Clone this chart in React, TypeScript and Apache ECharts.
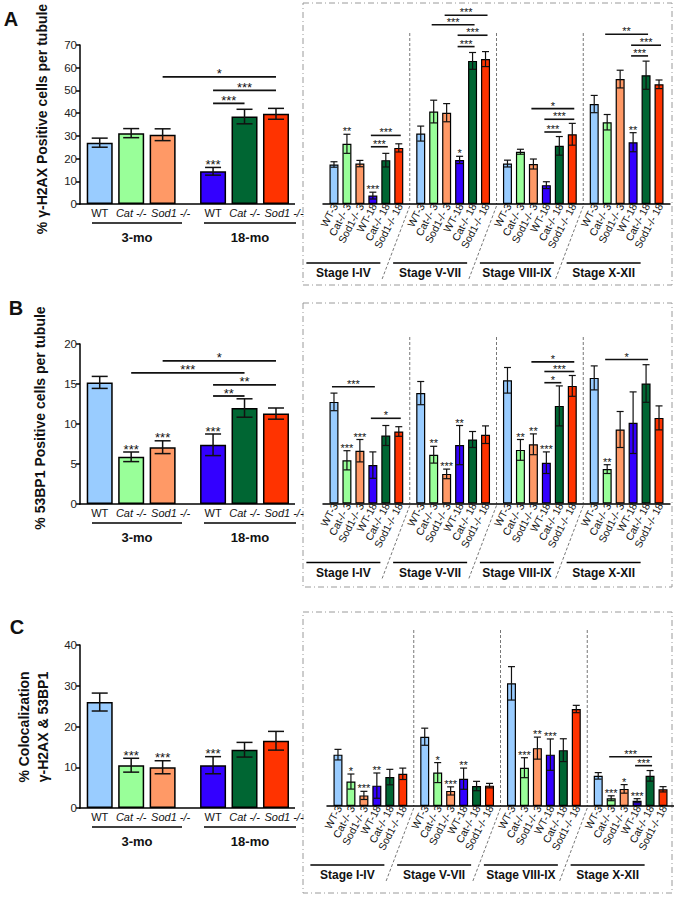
import React, { useEffect, useRef } from 'react';
import * as echarts from 'echarts';

const FONT = '"Liberation Sans", Arial, Helvetica, sans-serif';

// ---------- categories ----------
const ageGroups = ['3-mo', '18-mo'];
const genotypes = ['WT', 'Cat -/-', 'Sod1 -/-'];
const stages = ['Stage I-IV', 'Stage V-VII', 'Stage VIII-IX', 'Stage X-XII'];
const stageBars = ['WT-3', 'Cat-/- 3', 'Sod1-/- 3', 'WT-18', 'Cat-/- 18', 'Sod1-/- 18'];
const colors3mo = ['#99ccff', '#99ff99', '#ff9966'];
const colors18mo = ['#3300ff', '#006633', '#ff3300'];
const stageColors = [...colors3mo, ...colors18mo];

// ---------- Panel A : γ-H2AX ----------
const aMean3 = [27.0, 31.2, 30.5];
const aErr3 = [2.0, 2.0, 2.6];
const aMean18 = [14.4, 38.5, 39.7];
const aErr18 = [1.7, 3.2, 2.4];
const aStars3 = ['', '', ''];
const aStars18 = ['***', '', ''];
// [age1, genotype1, age2, genotype2, height, label]
const aBrackets: any[] = [
  [0, 2, 1, 2, 56, '*'],
  [1, 0, 1, 2, 50, '***'],
  [1, 0, 1, 1, 44.3, '***'],
];
// rows = stageBars, columns = stages
const aStageMean = [
  [17.4, 31.0, 17.8, 44.0],
  [26.5, 40.7, 23.0, 36.0],
  [17.8, 40.2, 17.6, 55.0],
  [3.7, 19.4, 8.3, 27.2],
  [19.3, 63.0, 25.6, 56.7],
  [24.7, 63.8, 30.7, 52.7],
];
const aStageErr = [
  [1.2, 3.3, 1.5, 3.8],
  [4.2, 5.0, 1.1, 3.4],
  [1.4, 4.0, 2.2, 3.9],
  [1.5, 1.6, 1.5, 4.2],
  [3.0, 3.7, 4.1, 6.2],
  [1.8, 3.3, 4.8, 1.9],
];
const aStageStars = [
  ['', '', '', ''],
  ['**', '', '', ''],
  ['', '', '', ''],
  ['***', '*', '', '**'],
  ['', '', '', ''],
  ['', '', '', ''],
];
// [stage, bar1, bar2, height, label]
const aStageBrackets: any[] = [
  [0, 3, 5, 30.2, '***'], [0, 3, 4, 25.2, '***'],
  [1, 2, 5, 83.1, '***'], [1, 1, 4, 78.9, '***'], [1, 3, 5, 74.3, '***'], [1, 3, 4, 69.3, '***'],
  [2, 2, 5, 42.0, '*'], [2, 3, 5, 37.3, '***'], [2, 3, 4, 31.7, '***'],
  [3, 1, 4, 74.7, '**'], [3, 3, 5, 69.9, '***'], [3, 3, 4, 65.2, '***'],
];

// ---------- Panel B : 53BP1 ----------
const bMean3 = [15.2, 5.9, 7.1];
const bErr3 = [0.75, 0.6, 0.8];
const bMean18 = [7.4, 12.0, 11.3];
const bErr18 = [1.35, 1.15, 0.7];
const bStars3 = ['', '***', '***'];
const bStars18 = ['***', '', ''];
const bBrackets: any[] = [
  [0, 2, 1, 2, 17.9, '*'],
  [0, 1, 1, 1, 16.4, '***'],
  [1, 0, 1, 2, 14.9, '**'],
  [1, 0, 1, 1, 13.5, '**'],
];
const bStageMean = [
  [12.7, 13.8, 15.4, 15.7],
  [5.4, 6.1, 6.7, 4.3],
  [6.6, 3.7, 7.4, 9.25],
  [4.8, 7.3, 5.1, 10.1],
  [8.5, 8.0, 12.2, 15.0],
  [9.0, 8.6, 14.7, 10.7],
];
const bStageErr = [
  [1.1, 1.45, 1.6, 1.5],
  [1.2, 1.05, 1.3, 0.55],
  [1.4, 0.6, 1.3, 2.25],
  [1.65, 2.45, 1.35, 3.85],
  [1.25, 1.0, 2.5, 2.35],
  [0.6, 1.1, 1.3, 1.5],
];
const bStageStars = [
  ['', '', '', ''],
  ['***', '**', '**', '**'],
  ['***', '***', '**', ''],
  ['', '**', '***', ''],
  ['', '', '', ''],
  ['', '', '', ''],
];
const bStageBrackets: any[] = [
  [0, 0, 3, 14.6, '***'], [0, 3, 5, 10.65, '*'],
  [2, 2, 5, 17.7, '*'], [2, 3, 5, 16.5, '***'], [2, 3, 4, 15.1, '*'],
  [3, 1, 4, 18.0, '*'],
];

// ---------- Panel C : colocalization ----------
const cMean3 = [26.0, 10.5, 10.0];
const cErr3 = [2.2, 1.7, 1.6];
const cMean18 = [10.5, 14.3, 16.5];
const cErr18 = [2.1, 1.8, 2.3];
const cStars3 = ['', '***', '***'];
const cStars18 = ['***', '', ''];
const cBrackets: any[] = [];
const cStageMean = [
  [12.6, 17.0, 30.1, 7.4],
  [6.0, 8.2, 9.4, 1.9],
  [2.6, 3.7, 14.2, 4.2],
  [5.0, 6.7, 12.6, 1.3],
  [7.1, 4.9, 13.7, 7.4],
  [7.9, 5.0, 23.8, 4.1],
];
const cStageErr = [
  [1.3, 2.1, 4.1, 0.8],
  [1.85, 2.45, 2.45, 0.6],
  [1.0, 1.0, 2.7, 1.05],
  [3.1, 2.6, 3.85, 0.5],
  [1.9, 1.15, 2.8, 1.3],
  [1.4, 0.55, 0.9, 0.65],
];
const cStageStars = [
  ['', '', '', ''],
  ['*', '*', '***', '***'],
  ['***', '***', '**', '*'],
  ['**', '**', '***', '***'],
  ['', '', '', ''],
  ['', '', '', ''],
];
const cStageBrackets: any[] = [
  [3, 1, 4, 12.1, '***'], [3, 3, 4, 9.9, '***'],
];

// ---------- layout (positions / styles only) ----------
const panels = [
  {
    letter: 'A', letterPos: [11, 19], title: '% γ-H2AX Positive cells per tubule', titlePos: [42, 119],
    L: { top: 45, height: 159, max: 70, interval: 10 },
    R: { left: 323, width: 347, top: 45, height: 159, max: 70 },
    box: [303, 3, 369, 282], sepTop: 33,
    data: {
      mean3: aMean3, err3: aErr3, mean18: aMean18, err18: aErr18, stars3: aStars3, stars18: aStars18, brackets: aBrackets,
      sMean: aStageMean, sErr: aStageErr, sStars: aStageStars, sBrackets: aStageBrackets,
    },
  },
  {
    letter: 'B', letterPos: [16, 308], title: '% 53BP1 Positive cells per tubule', titlePos: [40, 418],
    L: { top: 344, height: 160, max: 20, interval: 5 },
    R: { left: 323, width: 347, top: 343.5, height: 160, max: 20 },
    box: [303, 303, 369, 284], sepTop: 337,
    data: {
      mean3: bMean3, err3: bErr3, mean18: bMean18, err18: bErr18, stars3: bStars3, stars18: bStars18, brackets: bBrackets,
      sMean: bStageMean, sErr: bStageErr, sStars: bStageStars, sBrackets: bStageBrackets,
    },
  },
  {
    letter: 'C', letterPos: [17, 627], title: '% Colocalization\nγ-H2AX & 53BP1', titlePos: [33, 727],
    L: { top: 645, height: 163, max: 40, interval: 10 },
    R: { left: 327, width: 347, top: 643, height: 163, max: 40 },
    box: [303, 612, 369, 281], sepTop: 630,
    data: {
      mean3: cMean3, err3: cErr3, mean18: cMean18, err18: cErr18, stars3: cStars3, stars18: cStars18, brackets: cBrackets,
      sMean: cStageMean, sErr: cStageErr, sStars: cStageStars, sBrackets: cStageBrackets,
    },
  },
];

// left grid is a bit wider than its drawn axes so the two bar groups land where the reference has them
const LEFT_X = 74.5;
const LEFT_W = 226.7;
const AXIS_X = 80;
const AXIS_END = 295;
const INK = '#111';

function textStyle(text: string, size: number, weight: string = 'normal', extra: any = {}) {
  return {
    text, fill: INK, fontSize: size, fontWeight: weight, fontFamily: FONT,
    align: 'center', verticalAlign: 'middle', ...extra,
  };
}

function errSeries(gi: number, rows: any[], n: number, spacing: number, capW: number, fs: number, lw: number) {
  return {
    type: 'custom', xAxisIndex: gi, yAxisIndex: gi, z: 10, silent: true, clip: false,
    itemStyle: { color: INK },
    encode: { x: 0, y: 2 },
    data: rows.map((r) => [r[0], r[1], r[2], r[3]]),
    renderItem: (params: any, api: any) => {
      const [cat, s, m, e, star] = rows[params.dataIndex];
      const base = api.coord([cat, m]);
      const x = base[0] + (s - (n - 1) / 2) * spacing;
      const yt = api.coord([cat, m + e])[1];
      const yb = api.coord([cat, Math.max(0, m - e)])[1];
      const st = { stroke: INK, lineWidth: lw };
      const children: any[] = [
        { type: 'line', shape: { x1: x, y1: yt, x2: x, y2: yb }, style: st },
        { type: 'line', shape: { x1: x - capW / 2, y1: yt, x2: x + capW / 2, y2: yt }, style: st },
        { type: 'line', shape: { x1: x - capW / 2, y1: yb, x2: x + capW / 2, y2: yb }, style: st },
      ];
      if (star) {
        children.push({ type: 'text', x, y: yt - 3, style: textStyle(star, fs) });
      }
      return { type: 'group', children };
    },
  };
}

function bracketSeries(gi: number, rows: any[], n: number, spacing: number, ext: number, fs: number, lw: number) {
  return {
    type: 'custom', xAxisIndex: gi, yAxisIndex: gi, z: 10, silent: true, clip: false,
    itemStyle: { color: INK },
    encode: { x: 0, y: 1 },
    data: rows.map((r) => [r[0], r[4]]),
    renderItem: (params: any, api: any) => {
      const [c1, s1, c2, s2, h, label] = rows[params.dataIndex];
      const p1 = api.coord([c1, h]);
      const p2 = api.coord([c2, h]);
      const x1 = p1[0] + (s1 - (n - 1) / 2) * spacing - ext;
      const x2 = p2[0] + (s2 - (n - 1) / 2) * spacing + ext;
      const y = p1[1];
      return {
        type: 'group',
        children: [
          { type: 'line', shape: { x1, y1: y, x2, y2: y }, style: { stroke: INK, lineWidth: lw } },
          { type: 'text', x: (x1 + x2) / 2, y: y - 3, style: textStyle(label, fs) },
        ],
      };
    },
  };
}

function buildOption() {
  const grid: any[] = [];
  const xAxis: any[] = [];
  const yAxis: any[] = [];
  const series: any[] = [];
  const graphic: any[] = [];
  const axisLine = { show: true, lineStyle: { color: '#000', width: 1.5 } };

  panels.forEach((p, pi) => {
    const d = p.data;
    const gL = pi * 2;
    const gR = pi * 2 + 1;
    const baseL = p.L.top + p.L.height;
    const baseR = p.R.top + p.R.height;

    // ----- left grid -----
    grid.push({ left: LEFT_X, top: p.L.top, width: LEFT_W, height: p.L.height });
    xAxis.push({
      gridIndex: gL, type: 'category', data: ageGroups,
      axisLine: { show: false }, axisTick: { show: false }, axisLabel: { show: false },
    });
    yAxis.push({
      gridIndex: gL, type: 'value', min: 0, max: p.L.max, interval: p.L.interval,
      offset: LEFT_X - AXIS_X,
      axisLine, axisTick: { show: true, length: 4, lineStyle: { color: '#000', width: 1.5 } },
      axisLabel: { fontSize: 11.5, color: '#222', margin: 3, fontFamily: FONT },
      splitLine: { show: false },
    });
    genotypes.forEach((gname, g) => {
      series.push({
        type: 'bar', name: gname, xAxisIndex: gL, yAxisIndex: gL,
        barWidth: 26, barGap: '21%',
        itemStyle: { borderColor: '#000', borderWidth: 1.5 },
        label: {
          show: true, position: 'bottom', distance: 3, formatter: gname,
          fontSize: 11, fontStyle: g ? 'italic' : 'normal', color: INK, fontFamily: FONT,
          offset: g === 2 ? [8, 0] : [0, 0],
        },
        data: [
          { value: d.mean3[g], itemStyle: { color: colors3mo[g] } },
          { value: d.mean18[g], itemStyle: { color: colors18mo[g] } },
        ],
      });
    });
    const leftRows: any[] = [];
    genotypes.forEach((_, g) => {
      leftRows.push([0, g, d.mean3[g], d.err3[g], d.stars3[g]]);
      leftRows.push([1, g, d.mean18[g], d.err18[g], d.stars18[g]]);
    });
    series.push(errSeries(gL, leftRows, 3, 31.46, 16, 13, 1.5));
    if (d.brackets.length) series.push(bracketSeries(gL, d.brackets, 3, 31.46, 0, 13, 1.8));

    // baseline of the left panel
    graphic.push({ type: 'line', z: 50, shape: { x1: AXIS_X - 0.75, y1: baseL, x2: AXIS_END, y2: baseL }, style: { stroke: '#000', lineWidth: 1.5 } });

    // group underlines and labels
    const groupSpans = [[92, 182], [204, 296]];
    ageGroups.forEach((age, a) => {
      const [x1, x2] = groupSpans[a];
      graphic.push({ type: 'line', shape: { x1, y1: baseL + 19, x2, y2: baseL + 19 }, style: { stroke: '#000', lineWidth: 1.5 } });
      graphic.push({ type: 'text', x: (x1 + x2) / 2, y: baseL + 33, style: textStyle(age, 13, 'bold') });
    });

    // ----- right grid -----
    grid.push({ left: p.R.left, top: p.R.top, width: p.R.width, height: p.R.height });
    xAxis.push({
      gridIndex: gR, type: 'category', data: stages,
      axisLine, axisTick: { show: false }, axisLabel: { show: false },
    });
    yAxis.push({ gridIndex: gR, type: 'value', min: 0, max: p.R.max, show: false, splitLine: { show: false } });
    stageBars.forEach((bname, b) => {
      series.push({
        type: 'bar', name: bname, xAxisIndex: gR, yAxisIndex: gR,
        barWidth: 9, barGap: '44%',
        itemStyle: { color: stageColors[b], borderColor: '#000', borderWidth: 1.2 },
        label: {
          show: true, position: 'bottom', distance: 3, formatter: bname, rotate: 62,
          align: 'right', verticalAlign: 'middle', offset: [3, 0],
          fontSize: 10.5, color: INK, fontFamily: FONT,
        },
        data: d.sMean[b],
      });
    });
    const rightRows: any[] = [];
    stageBars.forEach((_, b) => {
      stages.forEach((__, k) => {
        rightRows.push([k, b, d.sMean[b][k], d.sErr[b][k], d.sStars[b][k]]);
      });
    });
    series.push(errSeries(gR, rightRows, 6, 12.96, 7, 11, 1.2));
    series.push(bracketSeries(gR, d.sBrackets.map((r: any) => [r[0], r[1], r[0], r[2], r[3], r[4]]), 6, 12.96, 2, 11, 1.6));

    // stage separators, underlines, labels
    const slot = p.R.width / 4;
    for (let k = 1; k < 4; k++) {
      const sx = p.R.left + slot * k;
      graphic.push({ type: 'line', shape: { x1: sx, y1: p.sepTop, x2: sx, y2: baseR }, style: { stroke: '#777', lineWidth: 1, lineDash: [3, 2] } });
      graphic.push({ type: 'line', shape: { x1: sx, y1: baseR + 2, x2: sx - 28, y2: baseR + 76 }, style: { stroke: '#777', lineWidth: 1, lineDash: [3, 2] } });
    }
    stages.forEach((st, k) => {
      const cx = p.R.left + slot * (k + 0.5) - 23;
      graphic.push({ type: 'line', shape: { x1: cx - 37, y1: baseR + 59, x2: cx + 37, y2: baseR + 59 }, style: { stroke: '#000', lineWidth: 1.5 } });
      graphic.push({ type: 'text', x: cx, y: baseR + 69, style: textStyle(st, 12, 'bold') });
    });

    // dashed box
    const [bx, by, bw, bh] = p.box;
    graphic.push({ type: 'rect', shape: { x: bx, y: by, width: bw, height: bh }, style: { fill: 'none', stroke: '#9a9a9a', lineWidth: 1, lineDash: [6, 3, 1, 3] } });

    // panel letter + y title
    graphic.push({ type: 'text', x: p.letterPos[0], y: p.letterPos[1], style: textStyle(p.letter, 20, 'bold') });
    graphic.push({
      type: 'text', x: p.titlePos[0], y: p.titlePos[1], rotation: Math.PI / 2,
      style: textStyle(p.title, 14, 'bold', { lineHeight: 19 }),
    });
  });

  return { animation: false, backgroundColor: '#fff', grid, xAxis, yAxis, series, graphic };
}

export default function App() {
  const ref = useRef<HTMLDivElement>(null);
  useEffect(() => {
    const chart = echarts.init(ref.current!, null, { renderer: 'svg' });
    chart.setOption(buildOption() as any);
    return () => chart.dispose();
  }, []);
  return (
    <div
      ref={ref}
      style={{ position: 'absolute', left: 0, top: 0, width: 674, height: 899, background: '#fff' }}
    />
  );
}
